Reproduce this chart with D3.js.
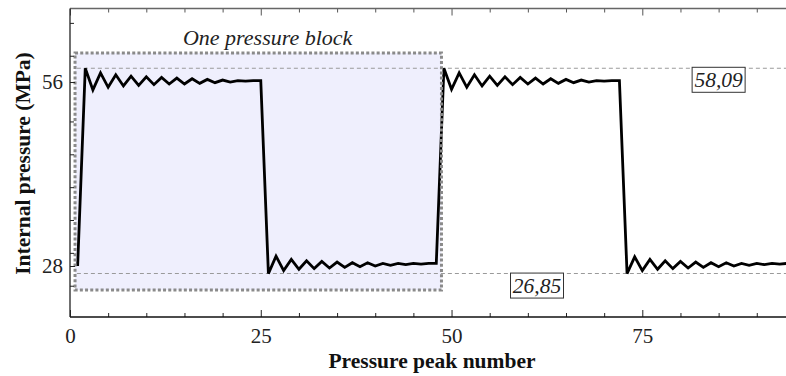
<!DOCTYPE html>
<html><head><meta charset="utf-8">
<script src="https://cdn.jsdelivr.net/npm/d3@7"></script>
<style>body{margin:0;background:#fff}</style>
</head><body><svg id="c" width="786" height="376"></svg>
<script>
// ---- data ----
const firstPeak = 1;
const pressure = [
  28.0,
  // block 1 high (2..25)
  58.09, 54.8, 57.4, 55.2, 57.1, 55.4, 56.9, 55.5, 56.8, 55.6, 56.7, 55.7,
  56.6, 55.7, 56.5, 55.8, 56.4, 55.9, 56.3, 56.0, 56.2, 56.15, 56.2, 56.2,
  // block 1 low (26..48)
  26.85, 29.5, 27.3, 29.0, 27.5, 28.8, 27.6, 28.7, 27.7, 28.6, 27.8, 28.5,
  27.9, 28.5, 28.0, 28.4, 28.1, 28.4, 28.2, 28.4, 28.3, 28.4, 28.4,
  // block 2 high (49..72)
  58.09, 54.9, 57.4, 55.2, 57.1, 55.4, 56.9, 55.5, 56.8, 55.6, 56.7, 55.7,
  56.6, 55.7, 56.5, 55.8, 56.4, 55.9, 56.3, 56.0, 56.2, 56.15, 56.2, 56.2,
  // block 2 low (73..94)
  26.85, 29.4, 27.3, 29.0, 27.5, 28.8, 27.6, 28.7, 27.7, 28.6, 27.8, 28.5,
  27.9, 28.5, 28.0, 28.4, 28.1, 28.4, 28.2, 28.4, 28.3, 28.4
];
const xDomain = [0, 93.83];
const yDomain = [20.24, 67.19];
const xMajorTicks = [0, 25, 50, 75];
const xMinorTicks = [5, 10, 15, 20, 30, 35, 40, 45, 55, 60, 65, 70, 80, 85, 90];
const yMajorTicks = [28, 56];
const yMinorTicks = [25, 30, 35, 40, 45, 50, 60, 65];
const refLevels = [58.09, 26.85];
const refLabels = ["58,09", "26,85"];
const refLabelAt = [[85, 58.09], [61.2, 26.85]];
const blockX = [0.66, 48.68];
const blockY = [24.35, 60.41];
const blockTitle = "One pressure block";
const blockTitleAt = 25.9;
const xTitle = "Pressure peak number";
const yTitle = "Internal pressure (MPa)";

// ---- drawing ----
const svg = d3.select("#c");
const serif = "Liberation Serif, Times New Roman, serif";
const x = d3.scaleLinear().domain(xDomain).range([70, 786]);
const y = d3.scaleLinear().domain(yDomain).range([317, 8.5]);

// shaded block
svg.append("rect")
  .attr("x", x(blockX[0])).attr("y", y(blockY[1]))
  .attr("width", x(blockX[1]) - x(blockX[0]))
  .attr("height", y(blockY[0]) - y(blockY[1]))
  .attr("fill", "#efeffd");

// reference dashed lines
svg.selectAll(".ref").data(refLevels).enter().append("line")
  .attr("x1", x(0.9)).attr("x2", x(xDomain[1]))
  .attr("y1", d => y(d)).attr("y2", d => y(d))
  .attr("stroke", "#9a9a9a").attr("stroke-width", 1.1)
  .attr("stroke-dasharray", "4,3");

// data line
const pts = pressure.map((v, i) => [firstPeak + i, v]);
svg.append("path").datum(pts)
  .attr("d", d3.line().x(d => x(d[0])).y(d => y(d[1])))
  .attr("fill", "none").attr("stroke", "#000")
  .attr("stroke-width", 2.8).attr("stroke-linejoin", "miter");

// block dotted border
svg.append("rect")
  .attr("x", x(blockX[0])).attr("y", y(blockY[1]))
  .attr("width", x(blockX[1]) - x(blockX[0]))
  .attr("height", y(blockY[0]) - y(blockY[1]))
  .attr("fill", "none").attr("stroke", "#8a8a8a")
  .attr("stroke-width", 3).attr("stroke-dasharray", "3,2.2");

svg.append("text")
  .attr("x", x(blockTitleAt)).attr("y", 45)
  .attr("text-anchor", "middle").attr("font-family", serif)
  .attr("font-style", "italic").attr("font-size", 22).attr("fill", "#222")
  .text(blockTitle);

// value labels in boxes
refLabels.forEach((lab, i) => {
  const g = svg.append("g");
  const cx = x(refLabelAt[i][0]);
  const cy = i === 0 ? y(refLabelAt[i][1]) + 11.5 : y(refLabelAt[i][1]) + 12;
  g.append("rect")
    .attr("x", cx - 26.5).attr("y", cy - 12.5)
    .attr("width", 53).attr("height", 25)
    .attr("fill", "#fff").attr("stroke", "#333").attr("stroke-width", 1);
  g.append("text").attr("x", cx).attr("y", cy + 7.5)
    .attr("text-anchor", "middle").attr("font-family", serif)
    .attr("font-style", "italic").attr("font-size", 21.5).attr("fill", "#222")
    .text(lab);
});

// axes
const styleAxis = (g, col) => {
  g.select(".domain").remove();
  g.selectAll("line").attr("stroke", col).attr("stroke-width", 1);
  g.selectAll("text").attr("font-family", serif).attr("font-size", 21).attr("fill", "#222");
};
// bottom
svg.append("g").attr("transform", "translate(0,317)")
  .call(d3.axisBottom(x).tickValues(xMajorTicks).tickSize(-7).tickPadding(11).tickFormat(d3.format("d")))
  .call(g => styleAxis(g, "#222"));
svg.append("g").attr("transform", "translate(0,317)")
  .call(d3.axisBottom(x).tickValues(xMinorTicks).tickSize(-4).tickFormat(""))
  .call(g => styleAxis(g, "#222"));
// top
svg.append("g").attr("transform", "translate(0,8.5)")
  .call(d3.axisTop(x).tickValues(xMajorTicks).tickSize(-7).tickFormat(""))
  .call(g => styleAxis(g, "#555"));
svg.append("g").attr("transform", "translate(0,8.5)")
  .call(d3.axisTop(x).tickValues(xMinorTicks).tickSize(-4).tickFormat(""))
  .call(g => styleAxis(g, "#555"));
// left
svg.append("g").attr("transform", "translate(70,0)")
  .call(d3.axisLeft(y).tickValues(yMajorTicks).tickSize(-5).tickPadding(7).tickFormat(d3.format("d")))
  .call(g => styleAxis(g, "#222"));
svg.append("g").attr("transform", "translate(70,0)")
  .call(d3.axisLeft(y).tickValues(yMinorTicks).tickSize(-4).tickFormat(""))
  .call(g => styleAxis(g, "#222"));

// frame lines
svg.append("line").attr("x1", 70).attr("x2", 786).attr("y1", 317).attr("y2", 317)
  .attr("stroke", "#111").attr("stroke-width", 1.3);
svg.append("line").attr("x1", 70).attr("x2", 786).attr("y1", 8.5).attr("y2", 8.5)
  .attr("stroke", "#666").attr("stroke-width", 1.3);
svg.append("line").attr("x1", 70).attr("x2", 70).attr("y1", 8.5).attr("y2", 317)
  .attr("stroke", "#222").attr("stroke-width", 1.3);

// titles
svg.append("text").attr("x", 432).attr("y", 368)
  .attr("text-anchor", "middle").attr("font-family", serif)
  .attr("font-weight", "bold").attr("font-size", 21.5).attr("fill", "#111")
  .text(xTitle);
svg.append("text").attr("transform", "translate(30,163.5) rotate(-90)")
  .attr("text-anchor", "middle").attr("font-family", serif)
  .attr("font-weight", "bold").attr("font-size", 21.5).attr("fill", "#111")
  .text(yTitle);
</script></body></html>
